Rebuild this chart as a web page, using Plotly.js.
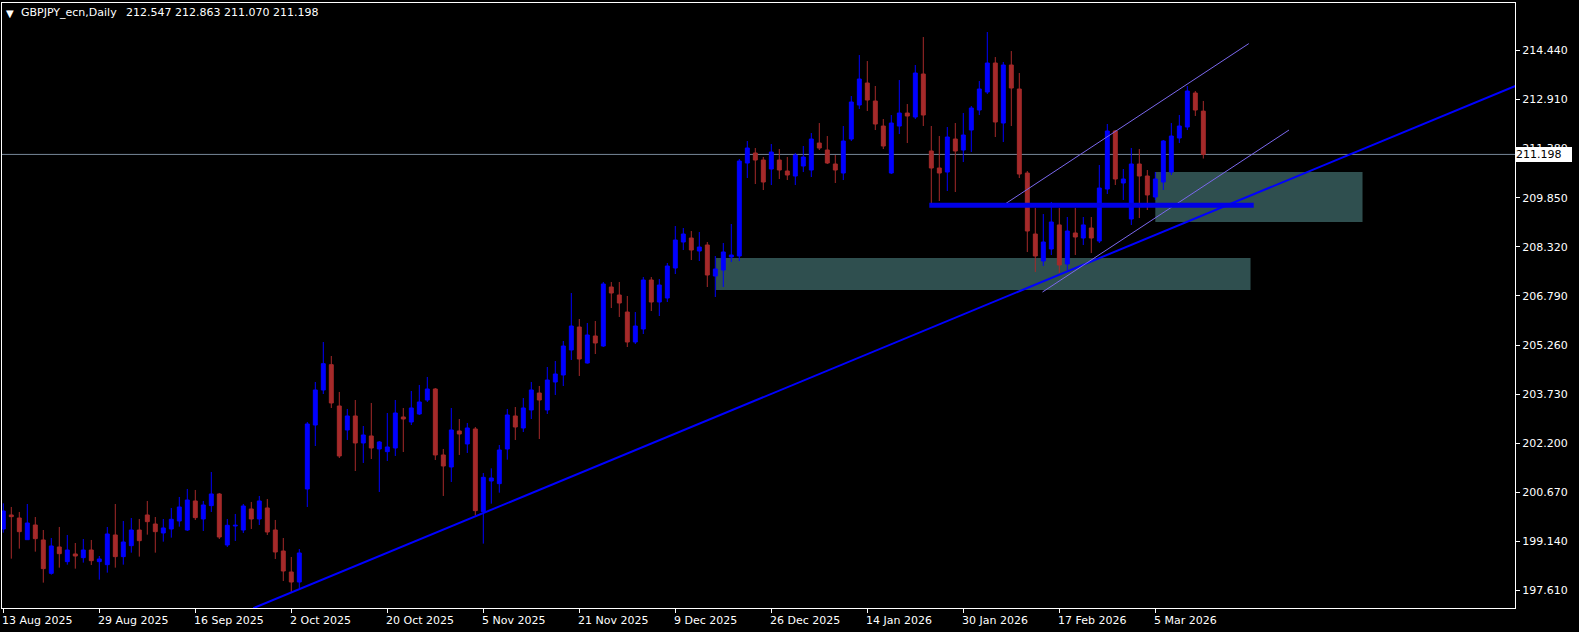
<!DOCTYPE html>
<html><head><meta charset="utf-8">
<script src="https://cdn.plot.ly/plotly-3.0.1.min.js"></script>
<style>html,body{margin:0;padding:0;background:#000;}#chart{width:1579px;height:632px;}</style>
</head><body><div id="chart"></div><script>
// ---- data ----
const symbolTitle = 'GBPJPY_ecn,Daily';
const lastOHLC = '212.547 212.863 211.070 211.198';
const dates = [
'2025-08-13','2025-08-14','2025-08-15','2025-08-18','2025-08-19','2025-08-20','2025-08-21','2025-08-22','2025-08-25','2025-08-26','2025-08-27','2025-08-28','2025-08-29',
'2025-09-01','2025-09-02','2025-09-03','2025-09-04','2025-09-05','2025-09-08','2025-09-09','2025-09-10','2025-09-11','2025-09-12','2025-09-15','2025-09-16','2025-09-17','2025-09-18','2025-09-19','2025-09-22','2025-09-23','2025-09-24','2025-09-25','2025-09-26','2025-09-29','2025-09-30',
'2025-10-01','2025-10-02','2025-10-03','2025-10-06','2025-10-07','2025-10-08','2025-10-09','2025-10-10','2025-10-13','2025-10-14','2025-10-15','2025-10-16','2025-10-17','2025-10-20','2025-10-21','2025-10-22','2025-10-23','2025-10-24','2025-10-27','2025-10-28','2025-10-29','2025-10-30','2025-10-31',
'2025-11-03','2025-11-04','2025-11-05','2025-11-06','2025-11-07','2025-11-10','2025-11-11','2025-11-12','2025-11-13','2025-11-14','2025-11-17','2025-11-18','2025-11-19','2025-11-20','2025-11-21','2025-11-24','2025-11-25','2025-11-26','2025-11-27','2025-11-28',
'2025-12-01','2025-12-02','2025-12-03','2025-12-04','2025-12-05','2025-12-08','2025-12-09','2025-12-10','2025-12-11','2025-12-12','2025-12-15','2025-12-16','2025-12-17','2025-12-18','2025-12-19','2025-12-22','2025-12-23','2025-12-24','2025-12-26','2025-12-29','2025-12-30','2025-12-31',
'2026-01-02','2026-01-05','2026-01-06','2026-01-07','2026-01-08','2026-01-09','2026-01-12','2026-01-13','2026-01-14','2026-01-15','2026-01-16','2026-01-19','2026-01-20','2026-01-21','2026-01-22','2026-01-23','2026-01-26','2026-01-27','2026-01-28','2026-01-29','2026-01-30',
'2026-02-02','2026-02-03','2026-02-04','2026-02-05','2026-02-06','2026-02-09','2026-02-10','2026-02-11','2026-02-12','2026-02-13','2026-02-16','2026-02-17','2026-02-18','2026-02-19','2026-02-20','2026-02-23','2026-02-24','2026-02-25','2026-02-26','2026-02-27',
'2026-03-02','2026-03-03','2026-03-04','2026-03-05','2026-03-06','2026-03-09','2026-03-10','2026-03-11','2026-03-12','2026-03-13'
];
const open = [
199.528,199.965,199.871,199.196,199.653,199.186,198.147,198.968,198.511,198.750,198.635,198.874,198.511,198.417,199.342,198.667,199.009,199.497,199.965,199.684,
199.404,199.529,199.778,199.497,200.401,199.840,200.256,200.619,199.030,199.622,199.497,200.152,199.840,200.183,199.497,198.843,198.189,197.877,200.775,202.768,
203.859,204.648,203.360,202.613,203.049,202.208,202.426,202.021,201.938,202.052,203.018,202.862,203.111,203.547,203.890,201.834,201.460,202.582,202.177,202.644,
200.069,201.024,200.941,202.021,203.049,202.675,203.236,203.765,203.236,204.108,204.326,205.105,205.821,204.700,205.541,205.229,207.067,206.818,206.288,205.354,
205.759,207.285,206.600,206.724,207.659,208.469,208.593,208.189,208.376,207.410,207.597,208.002,208.033,210.930,211.241,211.023,210.743,211.023,210.681,210.525,
210.836,210.712,211.553,211.335,210.899,210.618,211.677,212.737,213.422,212.861,212.082,210.618,212.082,212.487,212.363,213.702,211.304,210.774,210.649,211.678,
211.335,211.958,212.581,213.142,214.045,212.176,213.983,213.235,210.618,208.718,207.877,208.251,209.001,207.784,208.750,208.594,208.905,208.500,210.120,211.927,
210.307,209.186,210.899,210.525,209.871,210.338,210.650,211.709,212.052,213.111,212.547
];
const high = [
200.328,200.214,200.058,200.307,199.902,199.497,199.248,199.591,199.342,199.092,199.217,199.186,198.687,199.591,200.307,199.778,199.871,199.840,200.401,199.902,
199.840,200.183,200.526,200.775,200.744,200.401,201.304,200.650,199.840,199.996,200.307,200.370,200.557,200.463,199.809,199.248,198.656,198.905,202.862,204.108,
205.354,204.918,203.797,203.267,203.547,202.737,203.454,202.270,203.142,203.547,203.298,203.828,204.015,204.264,203.920,202.021,203.298,202.955,202.831,202.706,
201.273,201.418,202.145,203.267,203.329,203.609,204.108,203.983,204.575,204.762,205.385,206.880,206.070,205.946,206.008,207.223,207.223,207.223,206.787,206.288,
207.378,207.378,207.316,207.815,208.967,208.905,208.812,208.780,208.469,208.033,208.438,209.030,211.055,211.615,211.397,211.117,211.522,211.366,211.117,211.241,
211.459,211.864,212.176,211.771,211.179,212.082,213.017,214.294,214.107,213.329,212.300,212.425,213.515,212.768,213.983,214.855,212.083,211.771,212.051,212.176,
212.488,212.706,213.485,215.011,214.232,214.076,214.419,213.734,210.681,209.528,209.341,209.715,209.528,209.248,209.528,209.248,209.248,210.868,212.145,211.958,
210.743,211.398,211.366,210.712,210.650,211.647,212.176,212.426,213.329,213.173,212.863
];
const low = [
199.414,198.604,198.916,199.190,198.822,197.857,198.106,198.324,198.417,198.293,198.480,198.407,197.950,198.168,198.324,198.417,198.791,198.667,199.352,198.791,
199.134,199.259,199.601,199.466,199.809,199.466,200.058,199.217,198.968,199.155,199.404,199.529,199.653,199.342,198.594,197.908,197.566,197.690,200.214,202.114,
203.734,203.298,201.740,202.301,201.335,201.585,201.709,200.681,201.647,201.803,201.927,202.768,203.080,203.485,201.678,200.557,200.993,201.834,201.896,199.944,
199.072,200.318,200.660,201.688,202.301,202.550,202.955,202.332,203.111,203.703,203.983,204.793,204.295,204.680,204.980,205.198,206.413,206.133,205.198,205.291,
205.603,206.319,206.164,206.600,207.472,208.220,207.908,207.877,207.067,206.756,207.067,207.846,207.877,210.463,210.276,210.089,210.244,210.431,210.400,210.244,
210.649,210.494,211.335,210.899,210.307,210.400,211.615,212.612,212.550,211.958,211.366,210.587,211.833,211.553,212.300,212.083,209.684,209.746,210.058,210.027,
210.961,211.273,212.425,213.079,211.740,211.584,212.083,210.463,208.157,207.534,207.721,208.064,207.504,207.597,208.064,208.376,208.127,208.438,209.965,210.245,
209.778,208.999,209.217,209.466,209.778,210.089,210.557,211.553,211.958,212.395,211.070
];
const close = [
200.089,199.913,199.445,199.715,199.227,198.293,198.999,198.760,198.874,198.687,198.874,198.542,198.594,199.373,198.667,199.123,199.497,199.165,199.757,199.445,
199.560,199.830,200.214,200.432,199.882,200.276,200.619,199.279,199.643,199.643,200.245,199.840,200.401,199.435,198.812,198.220,197.877,198.781,202.800,203.859,
204.679,203.454,201.803,203.049,202.208,202.457,202.052,202.239,202.083,203.142,202.955,203.298,203.485,203.890,201.834,201.491,202.613,202.488,202.675,200.100,
201.138,201.117,201.989,203.080,202.706,203.298,203.859,203.547,204.170,204.357,205.229,205.852,204.824,205.572,205.323,207.161,206.880,206.569,205.354,205.852,
207.285,206.600,207.129,207.721,208.531,208.718,208.220,208.313,207.441,207.628,208.158,208.064,210.992,211.397,211.023,210.338,211.272,210.712,210.556,211.179,
211.117,211.677,211.397,210.930,210.712,211.615,212.830,213.547,212.892,212.145,211.459,212.176,212.487,212.394,213.733,212.425,210.774,210.618,211.740,211.304,
211.802,212.643,213.235,214.045,212.207,213.983,213.266,210.587,208.812,208.033,208.469,209.092,207.753,208.812,208.625,209.001,208.594,210.151,211.927,210.432,
210.432,210.899,210.525,209.934,210.432,211.616,211.771,212.083,213.173,212.581,211.198
];
const currentPrice = 211.198;
const priceTicks = [197.61,199.14,200.67,202.20,203.73,205.26,206.79,208.32,209.85,211.38,212.91,214.44];
const dateTicks = ['2025-08-13','2025-08-29','2025-09-16','2025-10-02','2025-10-20','2025-11-05','2025-11-21','2025-12-09','2025-12-26','2026-01-14','2026-01-30','2026-02-17','2026-03-05'];
const dateTickLabels = ['13 Aug 2025','29 Aug 2025','16 Sep 2025','2 Oct 2025','20 Oct 2025','5 Nov 2025','21 Nov 2025','9 Dec 2025','26 Dec 2025','14 Jan 2026','30 Jan 2026','17 Feb 2026','5 Mar 2026'];
// drawn objects (bar index, price)
const supportTrendX = [31.25, 190];
const supportTrendY = [197.06, 213.433];
const levelX = [115.75, 156.3];
const levelY = [209.612, 209.612];
const channelUpperX = [124.84, 155.68];
const channelUpperY = [209.591, 214.650];
const channelLowerX = [129.9, 160.71];
const channelLowerY = [206.911, 211.958];
const zoneLowX = [89.09, 155.9];
const zoneLowY = [206.974, 207.971];
const zoneHighX = [144.0, 169.9];
const zoneHighY = [209.092, 210.650];

// ---- chart ----
const BULL = '#0000FF', BEAR = '#A52A2A', ZONE = '#2F4F4F', CHAN = '#7B68EE';
const trace = {
  type: 'candlestick', x: dates, open: open, high: high, low: low, close: close,
  increasing: {line: {color: BULL, width: 1}, fillcolor: BULL},
  decreasing: {line: {color: BEAR, width: 1}, fillcolor: BEAR},
  whiskerwidth: 0, hoverinfo: 'skip', showlegend: false
};
function seg(xs, ys, color, width, layer) {
  return {type: 'line', xref: 'x', yref: 'y', x0: xs[0], x1: xs[1], y0: ys[0], y1: ys[1],
          line: {color: color, width: width}, layer: layer};
}
function rect(xs, ys) {
  return {type: 'rect', xref: 'x', yref: 'y', x0: xs[0], x1: xs[1], y0: ys[0], y1: ys[1],
          fillcolor: ZONE, line: {width: 0}, layer: 'below'};
}
const shapes = [
  rect(zoneLowX, zoneLowY),
  rect(zoneHighX, zoneHighY),
  {type: 'line', xref: 'paper', yref: 'y', x0: 0, x1: 1, y0: currentPrice, y1: currentPrice,
   line: {color: '#778899', width: 1}, layer: 'below'},
  seg(supportTrendX, supportTrendY, BULL, 2, 'above'),
  seg(channelUpperX, channelUpperY, CHAN, 1, 'above'),
  seg(channelLowerX, channelLowerY, CHAN, 1, 'above'),
  seg(levelX, levelY, '#0000E6', 5, 'above')
];
const font = {family: 'DejaVu Sans', size: 11, color: '#FFFFFF'};
const annotations = [
  {xref: 'paper', yref: 'paper', x: 0, y: 1, xanchor: 'left', yanchor: 'middle', xshift: 2, yshift: -10,
   text: '▼', showarrow: false, font: {family: 'DejaVu Sans', size: 10, color: '#FFFFFF'}},
  {xref: 'paper', yref: 'paper', x: 0, y: 1, xanchor: 'left', yanchor: 'middle', xshift: 17, yshift: -9,
   text: symbolTitle, showarrow: false, font: font},
  {xref: 'paper', yref: 'paper', x: 0, y: 1, xanchor: 'left', yanchor: 'middle', xshift: 122, yshift: -9,
   text: lastOHLC, showarrow: false, font: font},
  {xref: 'paper', yref: 'y', x: 1, y: currentPrice, xanchor: 'left', yanchor: 'middle', xshift: 0,
   text: currentPrice.toFixed(3), showarrow: false, bgcolor: '#FFFFFF', borderpad: 1, borderwidth: 0,
   width: 55, height: 13, align: 'left', font: {family: 'DejaVu Sans', size: 11, color: '#000000'}}
];
dateTicks.forEach((d, i) => annotations.push({
  xref: 'x', yref: 'paper', x: d, y: 0, xanchor: 'left', yanchor: 'middle', xshift: -3, yshift: -12,
  text: dateTickLabels[i], showarrow: false, font: font
}));
const layout = {
  width: 1579, height: 632,
  paper_bgcolor: '#000000', plot_bgcolor: '#000000',
  margin: {l: 2, r: 64, t: 3, b: 24, pad: 0, autoexpand: false},
  showlegend: false, font: font, hovermode: false, dragmode: false,
  xaxis: {type: 'category', range: [-0.1625, 188.96], rangeslider: {visible: false},
    showgrid: false, zeroline: false, showline: true, mirror: true, linecolor: '#FFFFFF', linewidth: 1,
    ticks: 'outside', ticklen: 4, tickcolor: '#FFFFFF', tickvals: dateTicks, showticklabels: false, fixedrange: true},
  yaxis: {side: 'right', range: [197.067, 215.915], showgrid: false, zeroline: false,
    showline: true, mirror: true, linecolor: '#FFFFFF', linewidth: 1,
    ticks: 'outside', ticklen: 4, tickcolor: '#FFFFFF', tickvals: priceTicks,
    ticktext: priceTicks.map(v => v.toFixed(3)), tickfont: font, fixedrange: true},
  shapes: shapes, annotations: annotations
};
Plotly.newPlot('chart', [trace], layout, {displayModeBar: false, staticPlot: true});
</script></body></html>
